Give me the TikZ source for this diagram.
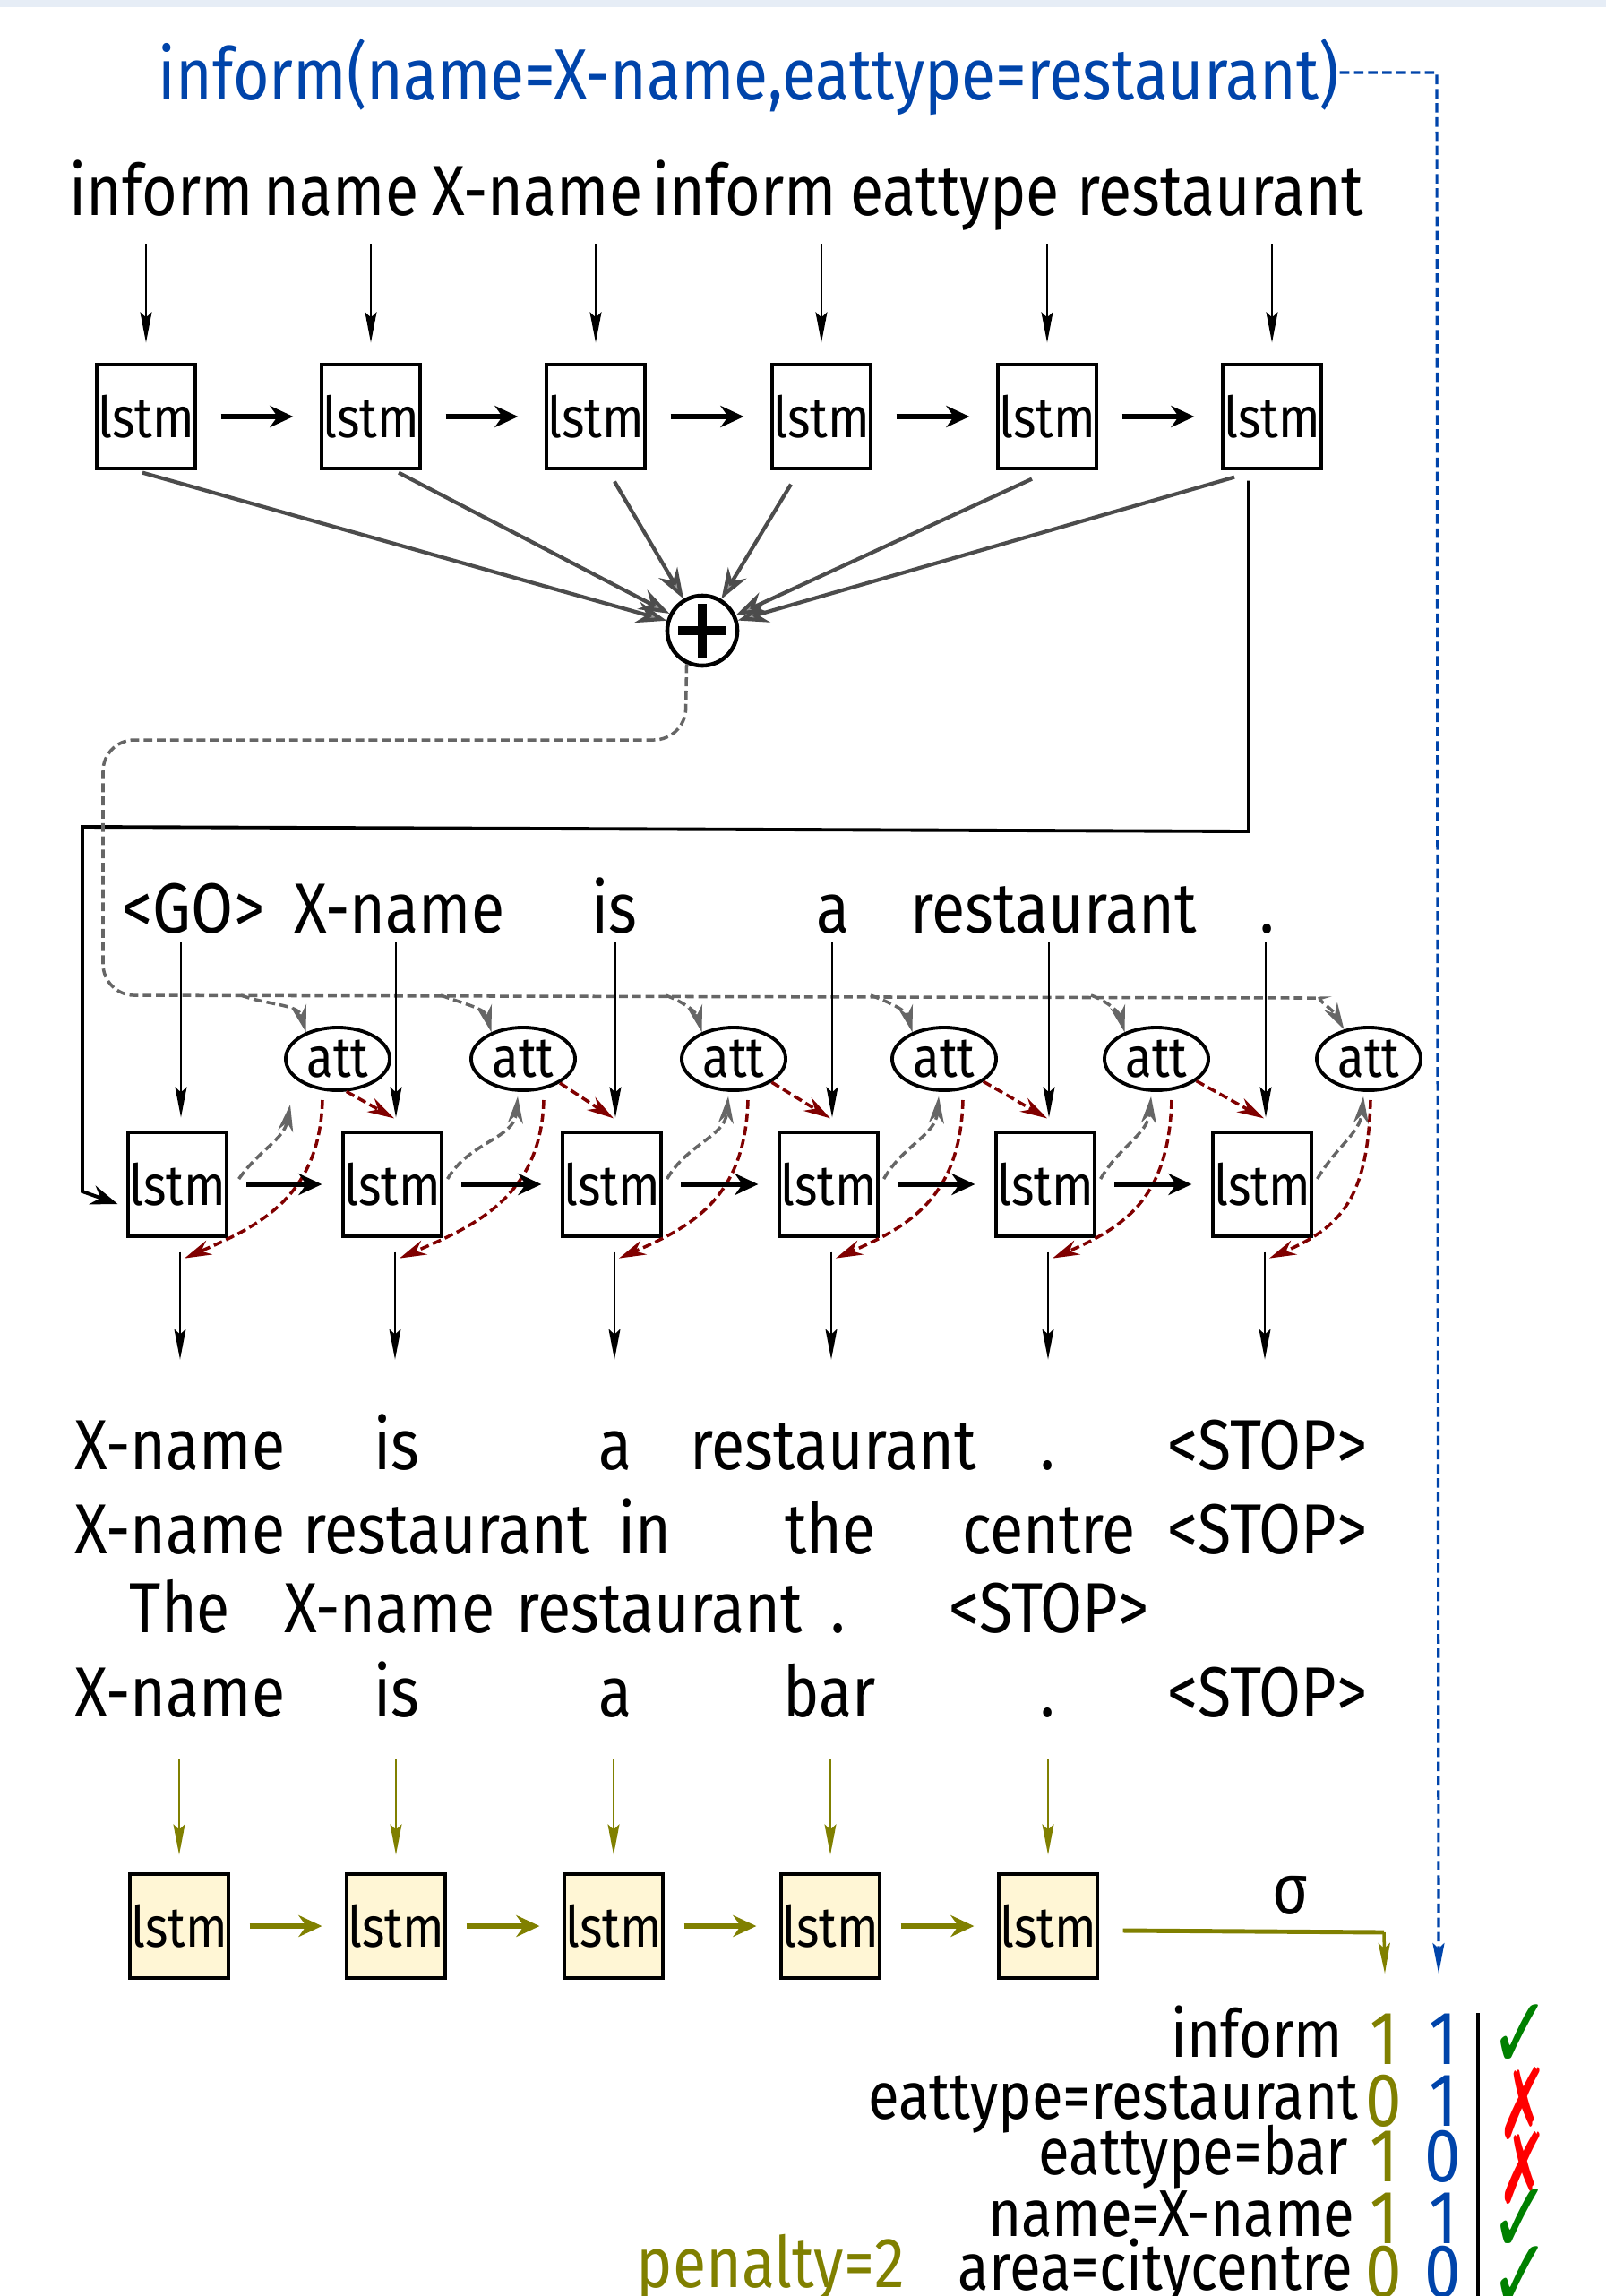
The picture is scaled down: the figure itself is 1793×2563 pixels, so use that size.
\documentclass[tikz,border=0pt]{standalone}
\usepackage{fontspec}
\setmainfont[FakeStretch=0.86]{Fira Sans}
\newfontfamily\chkfont{DejaVu Sans}
\usetikzlibrary{arrows.meta,shapes.geometric,calc}
\definecolor{myblue}{RGB}{0,68,170}
\definecolor{myolive}{RGB}{128,128,0}
\definecolor{mydred}{RGB}{128,0,0}
\definecolor{mygray}{RGB}{102,102,102}
\definecolor{mycream}{RGB}{255,246,213}
\definecolor{mygreen}{RGB}{0,128,0}
\definecolor{topband}{RGB}{230,237,246}
\newcommand\myWordFont{\fontsize{22.5}{27}\selectfont}
\newcommand\myTitleFont{\fontsize{23}{28}\selectfont}
\newcommand\myBoxFont{\fontsize{18}{22}\selectfont}
\newcommand\myTabFont{\fontsize{21}{25}\selectfont}
\newcommand\myDigitFont{\fontsize{24}{29}\selectfont}
\newcommand\myChkFont{\chkfont\fontsize{27}{32}\selectfont}
\begin{document}
\begin{tikzpicture}[x=0.01cm,y=0.01cm,
  word/.style={anchor=base, inner sep=0pt, font=\myWordFont},
  tword/.style={anchor=base east, inner sep=0pt, font=\myTabFont},
  dig/.style={anchor=base, inner sep=0pt, font=\myDigitFont},
  chk/.style={inner sep=0pt, font=\myChkFont},
  lstm/.style={draw, line width=0.9pt, minimum width=1.1cm, minimum height=1.16cm, inner sep=0pt, font=\myBoxFont},
  ylstm/.style={lstm, fill=mycream},
  attn/.style={ellipse, draw, line width=1.1pt, minimum width=1.16cm, minimum height=0.7cm, inner sep=0pt, font=\myBoxFont},
  arr/.style={-{Stealth[length=0.34cm,width=0.13cm,inset=0.06cm]}, line width=0.65pt},
  harr/.style={-{Stealth[length=0.26cm,width=0.24cm]}, line width=1.6pt},
  garr/.style={-{Stealth[length=0.34cm,width=0.24cm,fill=gray!80]}, line width=1.2pt, draw=black!70},
  gdash/.style={mygray, line width=1pt, dash pattern=on 2.8pt off 1.4pt, -{Stealth[length=0.3cm,width=0.17cm]}},
  rdash/.style={mydred, line width=1pt, dash pattern=on 2.8pt off 1.4pt, -{Stealth[length=0.3cm,width=0.17cm]}},
  oarr/.style={myolive, -{Stealth[length=0.34cm,width=0.13cm,inset=0.06cm]}, line width=0.65pt},
  oharr/.style={myolive, -{Stealth[length=0.26cm,width=0.24cm]}, line width=1.6pt},
]
\useasboundingbox (0,0) rectangle (1793,-2563);
\fill[topband] (0,0) rectangle (1793,-8);

% title
\node[word, myblue, font=\myTitleFont] (title) at (836,-111) {inform(name=X-name,eattype=restaurant)};

% top words
\node[word] (i1) at (180,-240) {inform};
\node[word] (i2) at (381,-240) {name};
\node[word] (i3) at (600,-240) {X-name};
\node[word] (i4) at (831,-240) {inform};
\node[word] (i5) at (1066,-240) {eattype};
\node[word] (i6) at (1362,-240) {restaurant};

% top lstm
\foreach \i/\x in {1/163,2/414,3/665,4/917,5/1169,6/1420}
  \node[lstm] (t\i) at (\x,-465) {lstm};
\foreach \i in {1,...,6}
  \draw[arr] ($(t\i.north)+(0,133)$) -- ($(t\i.north)+(0,23)$);
\foreach \i/\j in {1/2,2/3,3/4,4/5,5/6}
  \draw[harr, shorten <=0.27cm, shorten >=0.3cm] (t\i) -- (t\j);

% plus
\node[circle, draw, line width=1.3pt, minimum size=0.78cm, inner sep=0pt] (plus) at (784,-704) {};
\draw[line width=2.8pt] ($(plus.center)+(-27,0)$) -- ($(plus.center)+(27,0)$);
\draw[line width=2.8pt] ($(plus.center)+(0,-30)$) -- ($(plus.center)+(0,30)$);

\draw[garr] ($(t1.south)+(-4,-3)$) -- (plus);
\draw[garr] ($(t2.south)+(31,-3)$) -- (plus);
\draw[garr] ($(t3.south)+(21,-13)$) -- (plus);
\draw[garr] ($(t4.south)+(-34,-16)$) -- (plus);
\draw[garr] ($(t5.south)+(-17,-10)$) -- (plus);
\draw[garr] ($(t6.south)+(-42,-8)$) -- (plus);

% lower lstm and att
\foreach \i/\x in {1/198,2/438,3/683,4/925,5/1167,6/1409}
  \node[lstm] (l\i) at (\x,-1322) {lstm};
\foreach \i/\x in {1/377,2/584,3/819,4/1054,5/1291,6/1528}
  \node[attn] (a\i) at (\x,-1182) {att};

% black connector from encoder to decoder
\draw[line width=1.1pt, -{Stealth[length=0.3cm,width=0.22cm]}] ($(t6.south)+(-26,-12)$) -- (1394,-928) -- (92,-923) -- (92,-1330) -- ($(l1.west)+(-10,-22)$);

% gray dashed attention feed
\draw[gdash, rounded corners=0.35cm] (plus.-115) -- (765,-826) -- (115,-826) -- (115,-1111) -- (1440,-1114) to[out=0,in=120] (a6.130);
\foreach \i/\sx in {1/269,2/492,3/743,4/972,5/1218}
  \draw[gdash] (\sx,-1111) to[out=-20,in=105] (a\i.140);

% input words
\node[word] (g1) at (216,-1041) {<GO>};
\node[word] (g2) at (446,-1041) {X-name};
\node[word] (g3) at (686,-1041) {is};
\node[word] (g4) at (930,-1041) {a};
\node[word] (g5) at (1176,-1041) {restaurant};
\node[word] (g6) at (1415,-1041) {.};
\foreach \i in {1,...,6}
  \draw[arr] ($(l\i.north)+(4,210)$) -- ($(l\i.north)+(4,15)$);

% gray up arrows lstm -> att
\draw[gdash] ($(l1.east)+(12,6)$) to[out=55,in=-100] ($(a1.center)+(-53,-51)$);
\foreach \i in {2,...,6}
  \draw[gdash] ($(l\i.east)+(5,6)$) to[out=60,in=-95] ($(a\i.center)+(-6,-42)$);

% red dashed att -> next input
\draw[rdash] (a1.-75) -- ($(l2.north)+(2,14)$);
\foreach \i/\j in {2/3,3/4,4/5,5/6}
  \draw[rdash] (a\i) -- ($(l\j.north)+(2,14)$);

% red dashed att -> output
\foreach \i/\dx in {1/-17,2/23,3/16,4/21,5/17,6/2}
  \draw[rdash] ($(a\i.center)+(\dx,-46)$) .. controls +(-3,-110) and +(80,35) .. ($(l\i.south)+(8,-23)$);

% horizontal decoder arrows
\foreach \i/\j in {1/2,2/3,3/4,4/5,5/6}
  \draw[harr, shorten <=0.2cm, shorten >=0.22cm] (l\i) -- (l\j);

% output arrows
\foreach \i in {1,...,6}
  \draw[arr] ($(l\i.south)+(3,-16)$) -- ($(l\i.south)+(3,-136)$);

% output sentences
\node[word] (o11) at (201,-1640) {X-name};
\node[word] (o12) at (443,-1640) {is};
\node[word] (o13) at (687,-1640) {a};
\node[word] (o14) at (930,-1640) {restaurant};
\node[word] (o15) at (1170,-1640) {.};
\node[word] (o16) at (1415,-1640) {<STOP>};

\node[word] (o21) at (201,-1734) {X-name};
\node[word] (o22) at (498,-1734) {restaurant};
\node[word] (o23) at (720,-1734) {in};
\node[word] (o24) at (927,-1734) {the};
\node[word] (o25) at (1171,-1734) {centre};
\node[word] (o26) at (1415,-1734) {<STOP>};

\node[word] (o31) at (201,-1822) {The};
\node[word] (o32) at (435,-1822) {X-name};
\node[word] (o33) at (736,-1822) {restaurant};
\node[word] (o34) at (936,-1822) {.};
\node[word] (o35) at (1171,-1822) {<STOP>};

\node[word] (o41) at (201,-1916) {X-name};
\node[word] (o42) at (443,-1916) {is};
\node[word] (o43) at (687,-1916) {a};
\node[word] (o44) at (926,-1916) {bar};
\node[word] (o45) at (1170,-1916) {.};
\node[word] (o46) at (1415,-1916) {<STOP>};

% reranker lstm
\foreach \i/\x in {1/200,2/442,3/685,4/927,5/1170}
  \node[ylstm] (y\i) at (\x,-2150) {lstm};
\foreach \i in {1,...,5}
  \draw[oarr] ($(y\i.north)+(0,127)$) -- ($(y\i.north)+(0,20)$);
\foreach \i/\j in {1/2,2/3,3/4,4/5}
  \draw[oharr, shorten <=0.22cm, shorten >=0.26cm] (y\i) -- (y\j);
\coordinate (sigc) at (1545,-2157);
\draw[myolive, line width=1.4pt] ($(y5.east)+(27,-5)$) -- (sigc);
\draw[oarr, line width=1pt] (sigc) -- ++(1,-46);
\node[word] (sigma) at (1440,-2136) {σ};

% blue dashed
\draw[myblue, line width=0.9pt, dash pattern=on 3pt off 1.5pt, -{Stealth[length=0.34cm,width=0.13cm,inset=0.06cm]}] ($(title.base east)+(0,30)$) -- (1604,-81) -- (1606,-2203);

% table
\node[tword] (r1) at (1500,-2296) {inform};
\node[tword] (r2) at (1517,-2365) {eattype=restaurant};
\node[tword] (r3) at (1506,-2427) {eattype=bar};
\node[tword] (r4) at (1513,-2496) {name=X-name};
\node[tword] (r5) at (1511,-2556) {area=citycentre};

\foreach \y/\o/\b in {2304/1/1,2373/0/1,2435/1/0,2504/1/1,2564/0/0} {
  \node[dig, myolive] at (1545,-\y) {\o};
  \node[dig, myblue] at (1611,-\y) {\b};
}
\draw[line width=1pt] (1650,-2247) -- (1650,-2563);

\node[chk, mygreen] (c1) at (1697,-2274) {\scalebox{0.85}[1.2]{✓}};
\node[chk, red] (c2) at (1700,-2348) {\scalebox{0.7}[1.15]{✗}};
\node[chk, red] (c3) at (1700,-2420) {\scalebox{0.7}[1.15]{✗}};
\node[chk, mygreen] (c4) at (1697,-2480) {\scalebox{0.85}[1.2]{✓}};
\node[chk, mygreen] (c5) at (1697,-2544) {\scalebox{0.85}[1.2]{✓}};

\node[word, anchor=base west, myolive] (pen) at (710,-2553) {penalty=2};
\end{tikzpicture}
\end{document}
